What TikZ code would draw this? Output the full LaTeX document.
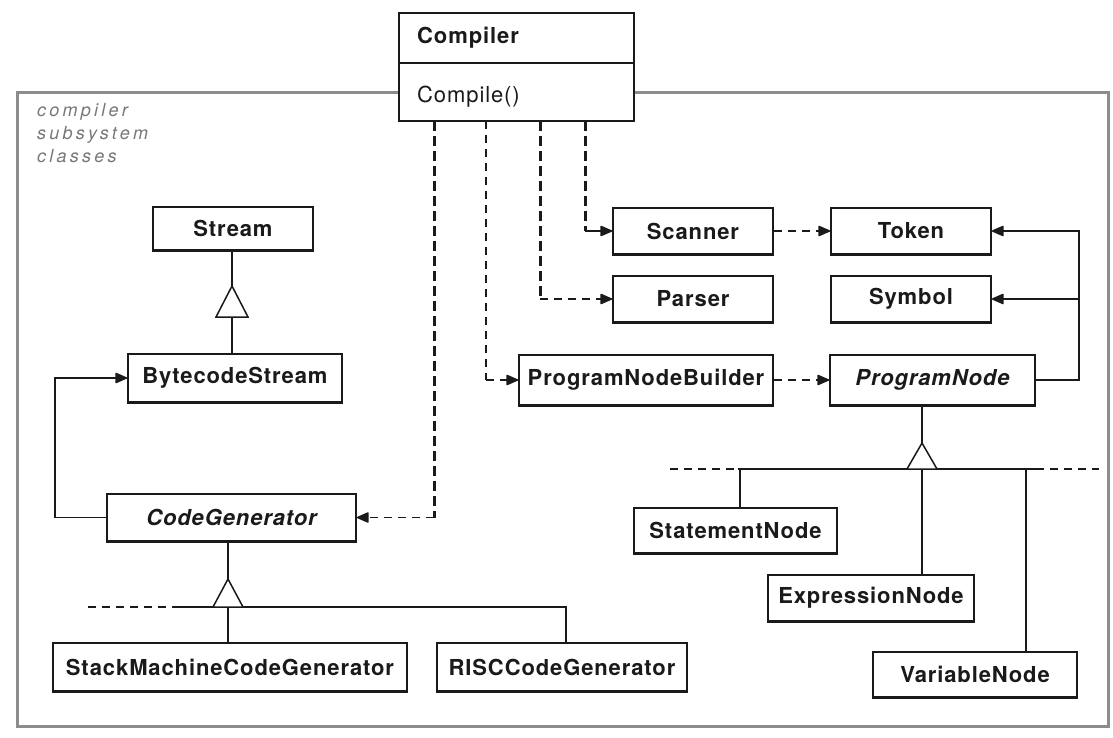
\documentclass[tikz,border=0pt]{standalone}
\usepackage{fontspec}
\setmainfont{TeX Gyre Heros}
\newfontfamily\clsfont[LetterSpace=4]{TeX Gyre Heros}
\newfontfamily\notefont[LetterSpace=18]{TeX Gyre Heros}
\usetikzlibrary{arrows.meta}

\definecolor{ink}{HTML}{1A1A1A}
\definecolor{framegray}{HTML}{8C8C8C}
\definecolor{notegray}{HTML}{777777}

\begin{document}
\begin{tikzpicture}[x=1pt,y=-1pt,
  cls/.style={draw=ink, line width=1.8pt, fill=white, text=ink, inner sep=0pt,
              minimum height=46pt, font=\clsfont\fontsize{22}{26}\selectfont\bfseries},
  abstractcls/.style={cls, font=\clsfont\fontsize{22}{26}\selectfont\bfseries\itshape},
  wire/.style={draw=ink, line width=1.5pt},
  assoc/.style={wire, -{Triangle[length=13pt,width=11pt,round,fill=ink]}},
  heavydash/.style={draw=ink, line width=3pt, dash pattern=on 10pt off 5pt},
  lightdash/.style={draw=ink, line width=1.7pt, dash pattern=on 8pt off 6pt},
  gentri/.style={draw=ink, line width=1.5pt, fill=white, line join=miter},
  note/.style={anchor=base west, inner sep=0pt, text=notegray,
               font=\notefont\fontsize{18}{23}\selectfont\itshape},
]
\useasboundingbox (0,0) rectangle (1113,738);

% subsystem frame
\draw[framegray, line width=3pt] (17,93) rectangle (1108,726);
\node[note] (note1) at (37,117) {compiler};
\node[note] (note2) at (37,140) {subsystem};
\node[note] (note3) at (37,163) {classes};

% Compiler facade
\node[draw=ink, line width=1.8pt, fill=white, minimum width=235pt,
      minimum height=108pt, inner sep=0pt] (compiler) at (516.5,67) {};
\coordinate (split) at (0,63);
\draw[ink, line width=1.8pt] (compiler.west |- split) -- (compiler.east |- split);
\node[anchor=west, inner sep=0pt, text=ink, font=\clsfont\fontsize{22}{26}\selectfont\bfseries]
  (cname) at (417,38) {Compiler};
\node[anchor=west, inner sep=0pt, text=ink, font=\clsfont\fontsize{22}{26}\selectfont]
  (cop) at (417,97) {Compile()};

% classes
\node[cls, minimum width=160pt, minimum height=43pt] (stream) at (233,228.5) {Stream};
\node[cls, minimum width=214pt, minimum height=48pt] (bcs) at (235,378) {BytecodeStream};
\node[abstractcls, minimum width=249pt, minimum height=47pt] (codegen) at (231.5,517.5) {CodeGenerator};
\node[cls, minimum width=354pt, minimum height=48pt] (smcg) at (230,667) {StackMachineCodeGenerator};
\node[cls, minimum width=250pt, minimum height=48pt] (risc) at (562,667) {RISCCodeGenerator};

\node[cls, minimum width=160pt] (scanner) at (693,231) {Scanner};
\node[cls, minimum width=160pt] (parser) at (693,299) {Parser};
\node[cls, minimum width=254pt, minimum height=50pt] (pnb) at (646,380) {ProgramNodeBuilder};
\node[cls, minimum width=160pt] (token) at (911,231) {Token};
\node[cls, minimum width=160pt] (symbol) at (911,299) {Symbol};
\node[abstractcls, minimum width=205pt, minimum height=50pt] (pnode) at (932.5,380) {ProgramNode};

\node[cls, minimum width=203pt, minimum height=45pt] (stmt) at (735.5,530.5) {StatementNode};
\node[cls, minimum width=206pt, minimum height=46pt] (expr) at (871,598) {ExpressionNode};
\node[cls, minimum width=204pt, minimum height=45pt] (var) at (975,674.5) {VariableNode};

% heavier bottom edges
\foreach \n in {stream,bcs,codegen,smcg,risc,scanner,parser,pnb,token,symbol,pnode,stmt,expr,var}
  \draw[ink, line width=3pt] (\n.south west) -- (\n.south east);

% Compiler uses its subsystem
\coordinate (d1) at (434,121);
\coordinate (d2) at (486,121);
\coordinate (d3) at (540,121);
\coordinate (d4) at (585,121);
\draw[heavydash] (d1) -- (d1 |- codegen.east);
\draw[lightdash, assoc] (d1 |- codegen.east) -- (codegen.east);
\draw[lightdash] (d2) -- (d2 |- pnb.west);
\draw[lightdash, assoc] (d2 |- pnb.west) -- (pnb.west);
\draw[heavydash] (d3) -- (d3 |- parser.west);
\draw[lightdash, assoc] (d3 |- parser.west) -- (parser.west);
\draw[heavydash] (d4) -- (d4 |- scanner.west);
\draw[assoc] (d4 |- scanner.west) -- (scanner.west);

% associations between subsystem classes
\draw[lightdash, assoc] (scanner.east) -- (token.west);
\draw[lightdash, assoc] (pnb.east) -- (pnode.west);
\coordinate (rl) at (1079,300);
\draw[assoc] (pnode.east) -- (pnode.east -| rl) |- (token.east);
\draw[assoc] (rl |- symbol.east) -- (symbol.east);
\coordinate (ll) at (55,450);
\draw[assoc] (codegen.west) -- (codegen.west -| ll) |- (bcs.west);

% Stream hierarchy
\coordinate (t1) at (232,286);
\coordinate (b1) at (232,317);
\draw[wire] (t1 |- stream.south) -- (t1);
\draw[wire] (b1) -- (b1 |- bcs.north);
\draw[gentri] (t1) -- (216,317) -- (248,317) -- cycle;

% CodeGenerator hierarchy
\coordinate (t2) at (228,579);
\coordinate (b2) at (228,607);
\coordinate (bar2d) at (88,607);
\coordinate (bar2l) at (180,607);
\coordinate (bar2r) at (566,607);
\draw[wire] (t2 |- codegen.south) -- (t2);
\draw[lightdash] (bar2d) -- (bar2l);
\draw[wire] (bar2l) -- (bar2r) -- (bar2r |- risc.north);
\draw[wire] (b2) -- (b2 |- smcg.north);
\draw[gentri] (t2) -- (213,607) -- (243,607) -- cycle;

% ProgramNode hierarchy
\coordinate (t3) at (922,443);
\coordinate (b3) at (922,469);
\coordinate (bar3a) at (670,469);
\coordinate (bar3b) at (738,469);
\coordinate (bar3c) at (1036,469);
\coordinate (bar3d) at (1099,469);
\coordinate (s3a) at (740,469);
\coordinate (s3c) at (1026,469);
\draw[wire] (t3 |- pnode.south) -- (t3);
\draw[lightdash] (bar3a) -- (bar3b);
\draw[wire] (bar3b) -- (bar3c);
\draw[lightdash] (bar3c) -- (bar3d);
\draw[wire] (s3a) -- (s3a |- stmt.north);
\draw[wire] (b3) -- (b3 |- expr.north);
\draw[wire] (s3c) -- (s3c |- var.north);
\draw[gentri] (t3) -- (907,469) -- (937,469) -- cycle;
\end{tikzpicture}
\end{document}
